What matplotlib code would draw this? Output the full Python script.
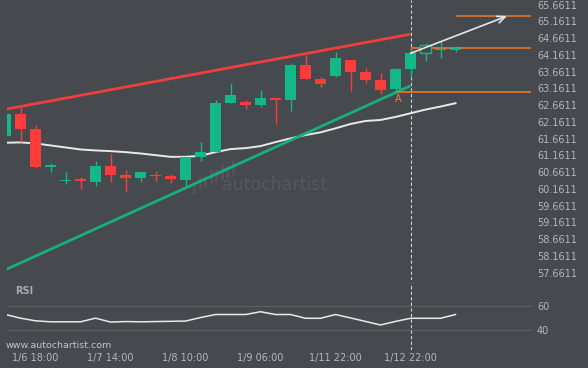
import numpy as np
import matplotlib
matplotlib.use('Agg')
import matplotlib.pyplot as plt
from matplotlib.patches import Rectangle
from matplotlib.lines import Line2D

# ---------------- data ----------------
opens  = [61.75, 62.40, 61.95, 60.83, 60.39, 60.42, 60.38, 60.85, 60.58, 60.49,
          60.56, 60.55, 60.43, 61.10, 61.26, 62.73, 62.76, 62.68, 62.88, 62.82,
          63.86, 63.44, 63.54, 64.01, 63.65, 63.41, 63.14, 63.74, 64.23, 64.30, 64.31]
highs  = [62.40, 62.62, 62.07, 60.94, 60.66, 60.51, 61.00, 61.20, 60.73, 60.68,
          60.70, 60.60, 61.11, 61.57, 62.82, 63.31, 62.82, 63.11, 62.88, 63.91,
          64.16, 63.50, 64.24, 64.01, 63.76, 63.61, 63.77, 64.37, 64.51, 64.58, 64.43]
lows   = [61.75, 61.55, 60.80, 60.68, 60.30, 60.15, 60.26, 60.38, 60.08, 60.38,
          60.40, 60.35, 60.23, 61.00, 61.26, 62.72, 62.54, 62.60, 62.09, 62.50,
          63.43, 63.21, 63.51, 63.09, 63.33, 62.99, 63.03, 63.50, 63.97, 64.06, 64.24]
closes = [62.40, 61.95, 60.82, 60.85, 60.41, 60.40, 60.84, 60.58, 60.49, 60.68,
          60.54, 60.45, 61.10, 61.26, 62.73, 62.96, 62.68, 62.88, 62.83, 63.86,
          63.45, 63.30, 64.06, 63.65, 63.42, 63.12, 63.74, 64.21, 64.45, 64.31, 64.37]
hollow_candles = [28]

sma = [61.54, 61.55, 61.52, 61.46, 61.40, 61.34, 61.31, 61.29, 61.26, 61.22,
       61.17, 61.12, 61.12, 61.15, 61.26, 61.35, 61.38, 61.44, 61.56, 61.67,
       61.77, 61.85, 61.97, 62.10, 62.19, 62.22, 62.31, 62.42, 62.53, 62.62, 62.72]

rsi = [53.0, 50.0, 47.8, 47.0, 47.0, 47.0, 50.0, 46.8, 47.2, 47.0,
       47.2, 47.4, 47.6, 50.5, 53.0, 53.0, 53.0, 55.3, 53.0, 53.0,
       49.9, 49.9, 53.0, 50.2, 47.3, 44.4, 47.3, 49.9, 49.9, 49.9, 53.0]

time_labels = ['1/6 18:00', '1/7 14:00', '1/8 10:00', '1/9 06:00', '1/11 22:00', '1/12 22:00']
time_label_idx = [2, 7, 12, 17, 22, 27]

price_ticks = [65.6611, 65.1611, 64.6611, 64.1611, 63.6611, 63.1611, 62.6611, 62.1611,
               61.6611, 61.1611, 60.6611, 60.1611, 59.6611, 59.1611, 58.6611, 58.1611, 57.6611]
rsi_ticks = [60, 40]

resistance_x = [0.0, 27.0]
resistance_y = [62.54, 64.78]
support_x = [0.0, 27.0]
support_y = [57.75, 63.24]

levels = [63.05, 64.38, 65.32]
level_start = [26, 27, 30]
level_end = 35.0
pattern_point = (26.2, 62.84)
arrow_start = (27.0, 64.21)
arrow_end = (33.43, 65.32)
signal_idx = 27

# ---------------- style ----------------
BG = '#464a4f'
GREEN = '#14b886'
RED = '#fc3b3b'
TXT = '#b4b8bd'
ORANGE = '#f47b2a'

W, H = 588, 368
fig = plt.figure(figsize=(W / 100, H / 100), dpi=100, facecolor=BG)

def fx(px):
    return px / W

def fy(py):
    return 1 - py / H

ax = fig.add_axes([fx(7), fy(280), fx(525), 280 / H], facecolor=BG)
ax.set_xlim(0.1, 35.1)
ax.set_ylim(57.443, 65.801)
for s in ax.spines.values():
    s.set_visible(False)

# watermark (logo + word), drawn inside the axes below the data
ax.text(fx(222), fy(185), 'autochartist', fontsize=12.5, color='#55595f',
        ha='left', va='center', family='DejaVu Sans', zorder=0.5,
        transform=fig.transFigure)
logo_bottoms = [192, 188, 186, 183, 181, 178, 176, 173]
logo_heights = [8, 10, 9, 12, 10, 12, 9, 11]
for k, (b, hh) in enumerate(zip(logo_bottoms, logo_heights)):
    xx = 194 + k * 5.5
    ax.add_line(Line2D([fx(xx), fx(xx)], [fy(b), fy(b - hh)],
                       color='#51555b', lw=2.2, transform=fig.transFigure, zorder=0.5))

# SMA
x = np.arange(len(closes))
ax.plot(x, sma, color='#e9e9e9', lw=1.4, zorder=2)

# trend lines
ax.plot(resistance_x, resistance_y, color='#f03d3d', lw=2, zorder=3, solid_capstyle='butt')
ax.plot(support_x, support_y, color='#16b07e', lw=2, zorder=3, solid_capstyle='butt')

# candles
bw = 0.73
for i in range(len(closes)):
    o, h, l, c = opens[i], highs[i], lows[i], closes[i]
    col = GREEN if c >= o else RED
    ax.vlines(i, l, h, color=col, lw=1, zorder=4)
    lo = min(o, c)
    ht = max(abs(c - o), 0.045)
    if i in hollow_candles:
        ax.add_patch(Rectangle((i - bw / 2, lo), bw, ht, facecolor=BG,
                               edgecolor=col, lw=1, zorder=5))
    else:
        ax.add_patch(Rectangle((i - bw / 2, lo), bw, ht, facecolor=col,
                               edgecolor='none', zorder=5))

# levels
for lv, st in zip(levels, level_start):
    ax.hlines(lv, st, level_end, color=ORANGE, lw=1.1, zorder=3)
ax.text(pattern_point[0], pattern_point[1], 'A', color='#e8824a', fontsize=7,
        ha='center', va='center', zorder=6)

ax.annotate('', xy=arrow_end, xytext=arrow_start,
            arrowprops=dict(arrowstyle='->,head_length=0.55,head_width=0.25',
                            color='#e6e6e6', lw=1.2, shrinkA=0, shrinkB=0), zorder=6)

ax.axvline(signal_idx, color='#cfcfcf', lw=0.8, linestyle=(0, (3, 2)), zorder=1)

ax.yaxis.tick_right()
ax.set_yticks(price_ticks)
ax.set_yticklabels(['%.4f' % t for t in price_ticks])
ax.tick_params(axis='y', length=0, pad=3.6, labelsize=7, labelcolor=TXT)
ax.set_xticks([])

# RSI panel
rax = fig.add_axes([fx(7), fy(350), fx(525), 67 / H], facecolor=BG)
rax.set_xlim(0.1, 35.1)
rax.set_ylim(23.8, 78.93)
for s in rax.spines.values():
    s.set_visible(False)
for t in rsi_ticks:
    rax.axhline(t, color='#5d6166', lw=0.8, zorder=1)
rax.plot(x, rsi, color='#e9e9e9', lw=1.1, zorder=3)
rax.axvline(signal_idx, color='#cfcfcf', lw=0.8, linestyle=(0, (3, 2)), zorder=2)
rax.yaxis.tick_right()
rax.set_yticks(rsi_ticks)
rax.set_yticklabels([str(t) for t in rsi_ticks])
rax.tick_params(axis='y', length=0, pad=3.6, labelsize=7, labelcolor=TXT)
rax.set_xticks(time_label_idx)
rax.set_xticklabels(time_labels)
rax.tick_params(axis='x', length=0, pad=2.5, labelsize=7, labelcolor=TXT)

fig.text(fx(15), fy(291), 'RSI', fontsize=7, fontweight='bold', color='#a8acb2',
         ha='left', va='center')
fig.text(fx(6), fy(345), 'www.autochartist.com', fontsize=6.8, color='#c0c4c8',
         ha='left', va='center')

fig.savefig('out.png', dpi=100, facecolor=BG)
